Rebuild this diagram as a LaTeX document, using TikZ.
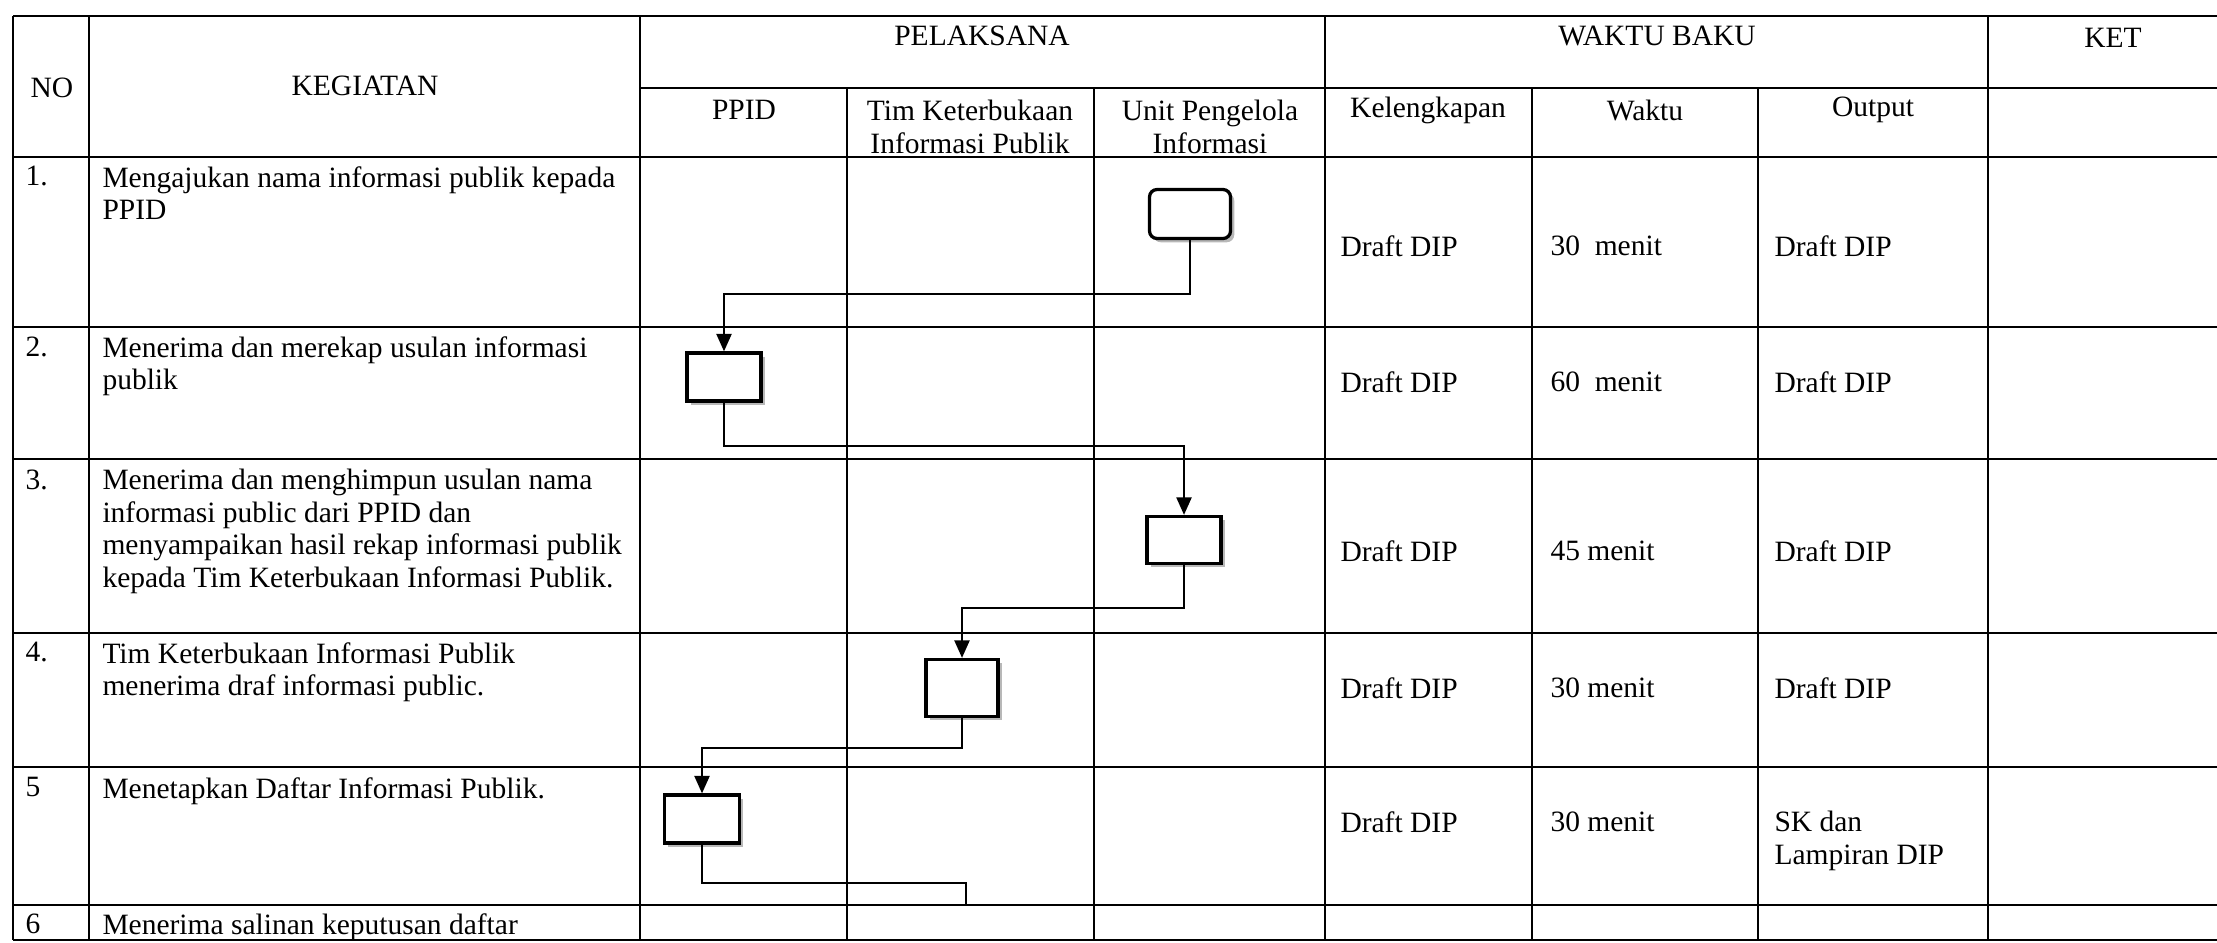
\documentclass[tikz,border=0pt]{standalone}
\usepackage{fontspec}
\setmainfont{Liberation Serif}
\usetikzlibrary{arrows.meta,shadows}

\begin{document}
\begin{tikzpicture}[x = 0.4pt, y = -0.4pt, font = \fontsize{11.8}{13}\selectfont]
\tikzstyle{rule}=[line width = 0.7pt]
\tikzstyle{head}=[inner sep = 0pt, align = center]
\tikzstyle{cell}=[inner sep = 0pt, anchor = north west, align = left]
\tikzstyle{act}=[draw, line width = 1.3pt, fill = white, inner sep = 0pt,
                 drop shadow = {shadow xshift = 1.5pt, shadow yshift = -1.5pt,
                                fill = gray!70, opacity = 0.8}]
\tikzstyle{flow}=[line width = 0.9pt, -{Triangle[length = 7pt, width = 6pt]}]
\tikzstyle{link}=[line width = 0.9pt]

\useasboundingbox (0,0) rectangle (2217,942);

% table
\foreach \y in {16,157,327,459,633,767,905,940}
  \draw[rule] (13,\y) -- (2217,\y);
\draw[rule] (640,88) -- (2217,88);
\foreach \x in {13,89,640,1325,1988}
  \draw[rule] (\x,16) -- (\x,940);
\foreach \x in {847,1094,1532,1758}
  \draw[rule] (\x,88) -- (\x,940);

% header
\node[head] (no) at (52,88) {NO};
\node[head] (kegiatan) at (365,86) {KEGIATAN};
\node[head] (pelaksana) at (982,36) {PELAKSANA};
\node[head] (waktubaku) at (1657,36) {WAKTU BAKU};
\node[head] (ket) at (2113,38) {KET};
\node[head] (ppid) at (744,110) {PPID};
\node[head] (tim) at (970,127) {Tim Keterbukaan\\Informasi Publik};
\node[head] (unit) at (1210,127) {Unit Pengelola\\Informasi};
\node[head] (kelengkapan) at (1428,110) {Kelengkapan};
\node[head] (waktu) at (1645,110) {Waktu};
\node[head] (output) at (1873,110) {Output};

% rows
\node[cell] (n1) at (25,166) {1.};
\node[cell] (k1) at (102,166) {Mengajukan nama informasi publik kepada\\PPID};
\node[cell] (n2) at (25,336) {2.};
\node[cell] (k2) at (102,336) {Menerima dan merekap usulan informasi\\publik};
\node[cell] (n3) at (25,469) {3.};
\node[cell] (k3) at (102,469) {Menerima dan menghimpun usulan nama\\informasi public dari PPID dan\\menyampaikan hasil rekap informasi publik\\kepada Tim Keterbukaan Informasi Publik.};
\node[cell] (n4) at (25,642) {4.};
\node[cell] (k4) at (102,642) {Tim Keterbukaan Informasi Publik\\menerima draf informasi public.};
\node[cell] (n5) at (25,777) {5};
\node[cell] (k5) at (102,777) {Menetapkan Daftar Informasi Publik.};
\node[cell] (n6) at (25,913) {6};
\node[cell] (k6) at (102,913) {Menerima salinan keputusan daftar};

\node[cell] (kl1) at (1340,235) {Draft DIP};
\node[cell] (w1) at (1550,235) {30\ \ menit};
\node[cell] (o1) at (1774,235) {Draft DIP};
\node[cell] (kl2) at (1340,371) {Draft DIP};
\node[cell] (w2) at (1550,371) {60\ \ menit};
\node[cell] (o2) at (1774,371) {Draft DIP};
\node[cell] (kl3) at (1340,540) {Draft DIP};
\node[cell] (w3) at (1550,540) {45 menit};
\node[cell] (o3) at (1774,540) {Draft DIP};
\node[cell] (kl4) at (1340,677) {Draft DIP};
\node[cell] (w4) at (1550,677) {30 menit};
\node[cell] (o4) at (1774,677) {Draft DIP};
\node[cell] (kl5) at (1340,811) {Draft DIP};
\node[cell] (w5) at (1550,811) {30 menit};
\node[cell] (o5) at (1774,811) {SK dan\\Lampiran DIP};

% flow
\node[act, rounded corners = 3pt, minimum width = 32.4pt, minimum height = 19.6pt] (b1) at (1190,214) {};
\node[act, minimum width = 29.6pt, minimum height = 19.2pt] (b2) at (724,377) {};
\node[act, minimum width = 29.6pt, minimum height = 18.8pt] (b3) at (1184,540) {};
\node[act, minimum width = 28.8pt, minimum height = 22.8pt] (b4) at (962,688) {};
\node[act, minimum width = 30pt, minimum height = 19.2pt] (b5) at (702,819) {};
\coordinate (e6) at (966,905);

\draw[flow] (b1.south) -- ++(0,54) -| (b2.north);
\draw[flow] (b2.south) -- ++(0,43) -| (b3.north);
\draw[flow] (b3.south) -- ++(0,43) -| (b4.north);
\draw[flow] (b4.south) -- ++(0,30) -| (b5.north);
\draw[link] (b5.south) -- ++(0,38) -| (e6);
\end{tikzpicture}
\end{document}
